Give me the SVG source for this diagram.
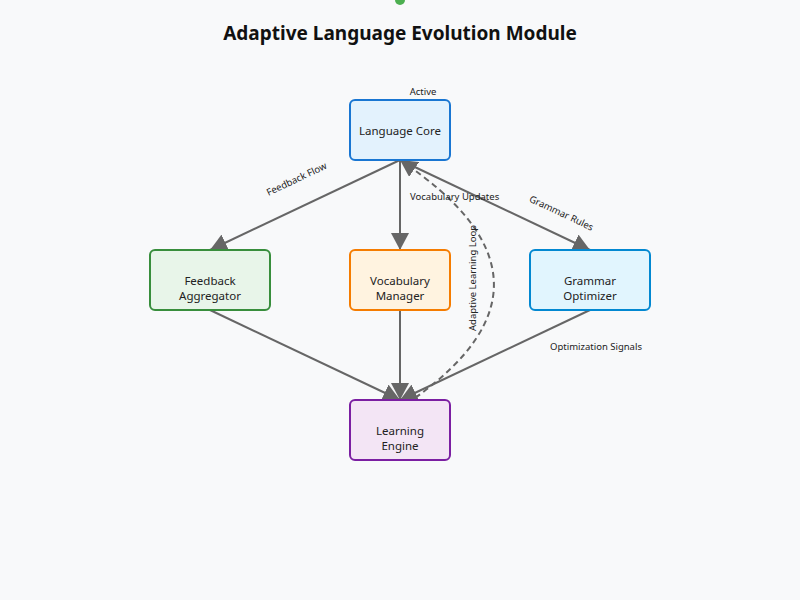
<svg xmlns="http://www.w3.org/2000/svg" width="800" height="600" viewBox="0 0 800 600">
<style>
text{font-family:"Noto Sans","Open Sans","Liberation Sans",sans-serif;fill:#222}
.t{font-size:11.5px;text-anchor:middle}
.l{font-size:9.5px}
.e{stroke:#666;stroke-width:2;fill:none}
.n{stroke-width:2}
</style>
<defs>
<marker id="a" markerUnits="userSpaceOnUse" markerWidth="18" markerHeight="18" refX="17" refY="9" orient="auto">
<path d="M0,0 L17,9 L0,18 z" fill="#666"/>
</marker>
</defs>
<rect width="800" height="600" fill="#f8f9fa"/>
<circle cx="400" cy="0" r="5" fill="#4caf50"/>
<text x="400" y="40" text-anchor="middle" style="font-size:19px;font-weight:bold;fill:#111">Adaptive Language Evolution Module</text>
<g id="connectors">
<path class="e" d="M400,160 L210,250" marker-end="url(#a)"/>
<path class="e" d="M400,160 L400,250" marker-end="url(#a)"/>
<path class="e" d="M400,160 L590,250" marker-end="url(#a)"/>
<path class="e" d="M210,310 L400,400" marker-end="url(#a)"/>
<path class="e" d="M400,310 L400,400" marker-end="url(#a)"/>
<path class="e" d="M590,310 L400,400" marker-end="url(#a)"/>
<path class="e" d="M415,398 Q580,280 400,160" stroke-dasharray="6,4" marker-end="url(#a)"/>
<text class="l" transform="translate(298,182) rotate(-25.3)" text-anchor="middle">Feedback Flow</text>
<text class="l" x="410" y="200">Vocabulary Updates</text>
<text class="l" transform="translate(560,216) rotate(25.3)" text-anchor="middle">Grammar Rules</text>
<text class="l" x="550" y="350">Optimization Signals</text>
<text class="l" transform="translate(476,278) rotate(-90)" text-anchor="middle">Adaptive Learning Loop</text>
</g>
<g id="language-core">
<rect class="n" x="350" y="100" width="100" height="60" rx="5" fill="#e3f2fd" stroke="#1976d2"/>
<text class="t" x="400" y="135">Language Core</text>
<text class="l" x="423" y="95" text-anchor="middle">Active</text>
</g>
<g id="feedback-aggregator">
<rect class="n" x="150" y="250" width="120" height="60" rx="5" fill="#e8f5e9" stroke="#388e3c"/>
<text class="t" x="210" y="285">Feedback</text>
<text class="t" x="210" y="300">Aggregator</text>
</g>
<g id="vocabulary-manager">
<rect class="n" x="350" y="250" width="100" height="60" rx="5" fill="#fff3e0" stroke="#f57c00"/>
<text class="t" x="400" y="285">Vocabulary</text>
<text class="t" x="400" y="300">Manager</text>
</g>
<g id="grammar-optimizer">
<rect class="n" x="530" y="250" width="120" height="60" rx="5" fill="#e1f5fe" stroke="#0288d1"/>
<text class="t" x="590" y="285">Grammar</text>
<text class="t" x="590" y="300">Optimizer</text>
</g>
<g id="learning-engine">
<rect class="n" x="350" y="400" width="100" height="60" rx="5" fill="#f3e5f5" stroke="#7b1fa2"/>
<text class="t" x="400" y="435">Learning</text>
<text class="t" x="400" y="450">Engine</text>
</g>
</svg>
